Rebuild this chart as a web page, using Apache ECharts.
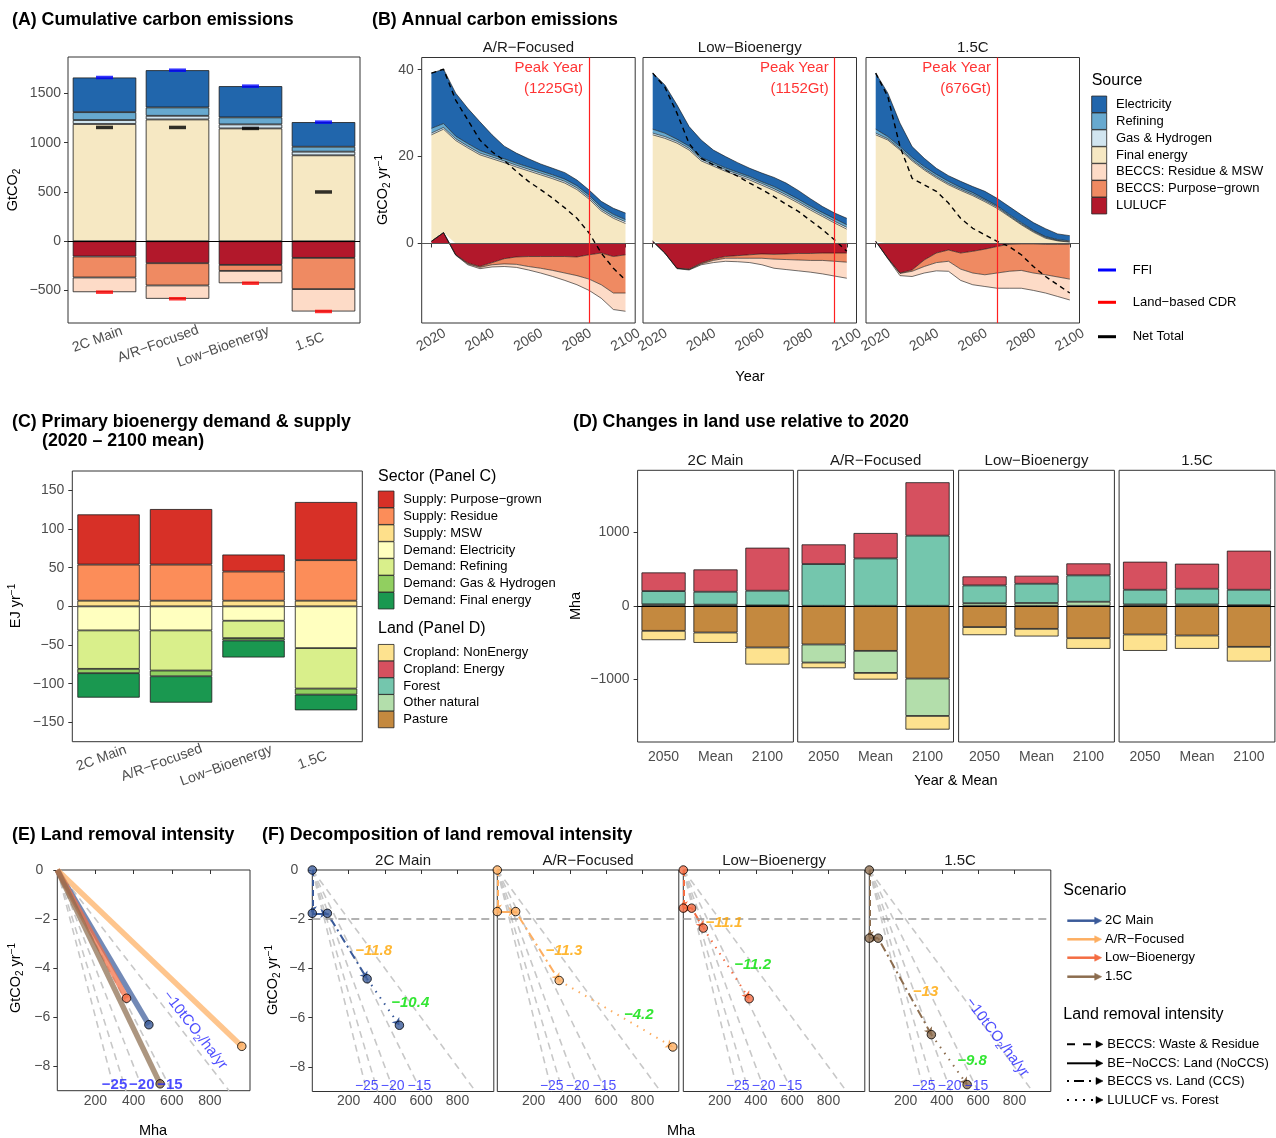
<!DOCTYPE html>
<html><head><meta charset="utf-8">
<script src="https://cdn.jsdelivr.net/npm/echarts@6/dist/echarts.min.js"></script>
<style>html,body{margin:0;padding:0;background:#fff}#c{width:1276px;height:1138px}</style>
</head><body><div id="c"></div>
<script>
// ================= DATA =================
const scenarios = ['2C Main', 'A/R−Focused', 'Low−Bioenergy', '1.5C'];

// Panel A: cumulative carbon emissions (GtCO2)
const aElectricity  = [352, 378, 317, 250];
const aRefining     = [80, 85, 71, 50];
const aGasHydrogen  = [40, 37, 41, 37];
const aFinalEnergy  = [1190, 1236, 1145, 872];
const aLulucf       = [-155, -223, -240, -169];
const aPurposeGrown = [-213, -226, -61, -317];
const aResidueMsw   = [-149, -135, -125, -227];
const aFFI          = [1662, 1736, 1574, 1209];
const aLandCDR      = [-517, -584, -426, -713];
const aNetTotal     = [1155, 1155, 1145, 500];
const aTicks        = [-500, 0, 500, 1000, 1500];

// Panel B: annual carbon emissions (GtCO2/yr)
const bYears  = [2020,2025,2030,2035,2040,2045,2050,2055,2060,2065,2070,2075,2080,2085,2090,2095,2100];
const bFacets = ['A/R−Focused', 'Low−Bioenergy', '1.5C'];
const bPeakYear  = [2085, 2095, 2070];
const bPeakLabel = ['(1225Gt)', '(1152Gt)', '(676Gt)'];
const bXTicks = [2020, 2040, 2060, 2080, 2100];
const bYTicks = [0, 20, 40];

const bArElectricity = [12.7,12.5,9.9,8.1,6.6,4.6,2.9,2.3,1.9,1.6,1.5,1.5,1.3,1.2,1.3,1.4,1.5];
const bArRefining    = [1.1,0.9,0.6,0.6,0.6,0.5,0.5,0.5,0.5,0.5,0.5,0.5,0.5,0.5,0.5,0.5,0.5];
const bArGas         = [0.4,0.4,0.4,0.4,0.4,0.4,0.4,0.4,0.4,0.4,0.4,0.4,0.4,0.4,0.4,0.4,0.4];
const bArFinal       = [24.5,23.8,23.7,22.0,20.4,19.5,18.6,17.6,16.7,15.8,14.9,13.9,12.4,10.2,7.5,5.8,4.6];
const bArLulucf      = [0.5,2.5,-2.6,-4.5,-5.3,-4.4,-3.5,-3.1,-3.0,-3.0,-3.0,-3.0,-3.1,-2.6,-2.2,-3.0,-2.6];
const bArPurpose     = [0,0,0,-0.2,-0.2,-0.5,-1.2,-1.7,-2.3,-2.7,-3.2,-3.8,-4.3,-5.6,-7.3,-8.4,-8.8];
const bArResidue     = [0,0,-0.1,-0.2,-0.3,-0.5,-0.6,-0.7,-0.8,-1.1,-1.4,-1.7,-2.1,-2.6,-3.1,-3.8,-4.2];
const bArNet         = [39.2,40.1,33.0,28.4,23.8,21.1,19.1,16.6,14.3,12.4,10.4,8.2,5.8,2.4,-2.2,-5.7,-8.4];

const bLbElectricity = [12.9,11.1,7.9,4.5,4.0,2.9,2.6,2.2,1.9,2.0,2.1,2.2,2.0,1.7,1.4,1.3,1.5];
const bLbRefining    = [0.9,0.8,0.5,0.5,0.4,0.4,0.4,0.4,0.4,0.4,0.5,0.5,0.5,0.5,0.5,0.6,0.6];
const bLbGas         = [0.4,0.4,0.4,0.4,0.4,0.4,0.4,0.4,0.4,0.4,0.4,0.4,0.4,0.4,0.4,0.4,0.4];
const bLbFinal       = [24.5,24.2,23.1,21.5,19.0,17.8,16.6,15.6,14.6,13.4,12.2,10.8,9.3,7.7,6.2,4.7,3.3];
const bLbLulucf      = [0.5,-2.2,-5.7,-5.9,-4.5,-3.6,-3.0,-2.8,-2.6,-2.4,-2.5,-2.4,-2.3,-2.3,-2.2,-2.2,-2.2];
const bLbPurpose     = [0,0,0,-0.1,-0.2,-0.3,-0.4,-0.6,-0.8,-1.0,-1.1,-1.3,-1.5,-1.6,-1.7,-1.9,-2.1];
const bLbResidue     = [0,0,-0.1,-0.1,-0.2,-0.5,-0.7,-0.8,-1.0,-1.5,-2.1,-2.3,-2.5,-2.7,-3.1,-3.4,-3.7];
const bLbNet         = [39.2,36.0,30.0,23.0,19.6,18.1,16.9,15.5,13.9,12.4,10.8,9.0,7.4,5.3,3.2,0.8,-1.8];

const bC15Electricity = [12.9,10.0,5.4,2.5,1.9,1.4,1.3,1.4,1.4,1.8,1.7,1.8,1.8,1.8,1.8,1.3,1.2];
const bC15Refining    = [0.9,0.5,0.5,0.5,0.5,0.5,0.5,0.4,0.4,0.3,0.3,0.3,0.3,0.2,0.2,0.2,0.2];
const bC15Gas         = [0.4,0.3,0.3,0.3,0.3,0.3,0.3,0.3,0.3,0.3,0.3,0.2,0.2,0.2,0.2,0.1,0.1];
const bC15Final       = [24.5,23.8,21.5,19.0,16.9,15.1,13.5,12.2,11.0,9.6,8.1,6.2,4.3,2.6,1.2,0.6,0.3];
const bC15Lulucf      = [0.5,-3.4,-6.8,-6.1,-3.8,-2.2,-1.5,-2.2,-1.8,-1.3,-0.7,-0.2,-0.1,-0.1,-0.2,-0.2,-0.2];
const bC15Purpose     = [0,0,-0.1,-0.3,-1.5,-2.2,-2.6,-3.7,-5.0,-5.9,-6.1,-6.2,-6.1,-6.7,-7.0,-7.5,-8.0];
const bC15Residue     = [0,-0.1,-0.5,-1.2,-1.5,-1.9,-2.3,-2.6,-2.7,-2.7,-3.5,-3.9,-4.1,-4.0,-4.2,-4.5,-4.8];
const bC15Net         = [39.2,33.8,22.3,15.0,13.5,12.0,9.3,5.8,3.5,2.0,0.5,-0.7,-2.6,-5.3,-7.6,-9.5,-11.4];

// Panel C: primary bioenergy (EJ/yr)
const cPurposeGrown = [64.9, 71.8, 22.0, 75.2];
const cResidue      = [46.7, 46.7, 37.7, 52.4];
const cMSW          = [7.3, 7.3, 7.3, 7.3];
const cElectricity  = [-31.1, -31.1, -18.6, -54.0];
const cRefining     = [-49.7, -51.9, -22.5, -52.3];
const cGasHydrogen  = [-5.6, -7.4, -3.0, -7.8];
const cFinalEnergy  = [-31.6, -34.1, -22.0, -20.3];
const cTicks        = [-150, -100, -50, 0, 50, 100, 150];

// Panel D: land-use change (Mha); 3 periods per scenario, scenario-major
const dPeriods       = ['2050', 'Mean', '2100'];
const dPasture       = [-341,-364,-568, -527,-614,-991, -290,-314,-441, -391,-405,-559];
const dOtherNatural  = [20,15,5, -246,-300,-509, 35,38,55, 18,18,8];
const dForest        = [180,176,200, 568,645,955, 242,262,359, 200,214,210];
const dCropEnergy    = [254,304,586, 268,346,727, 123,109,163, 382,341,532];
const dCropNonEnergy = [-127,-141,-232, -77,-91,-186, -110,-104,-145, -223,-181,-200];
const dTicks         = [-1000, 0, 1000];

// Panels E/F: land removal intensity
const fResidueY        = [-1.76, -1.69, -1.55, -2.77];
const fNoCcsX          = [83, 101, 46, 49];
const fCcsX            = [302, 341, 110, 342];
const fCcsY            = [-4.42, -4.49, -2.36, -6.69];
const fForestX         = [480, 967, 363, 539];
const fForestY         = [-6.31, -7.19, -5.23, -8.72];
const fCcsIntensity    = ['−11.8', '−11.3', '−11.1', '−13'];
const fForestIntensity = ['−10.4', '−4.2', '−11.2', '−9.8'];
const refSlopes        = [-30, -25, -20, -15, -10];
const refLabels        = ['−25', '−20', '−15'];
const efXTicks         = [200, 400, 600, 800];
const efYTicks         = [0, -2, -4, -6, -8];

// ================= STYLE / LAYOUT =================
const FONT = "'Liberation Sans', Arial, Helvetica, sans-serif";
const TICK_COL = '#4d4d4d';
const srcColors = ['#b2182b','#ef8a62','#fddbc7','#f6e8c3','#d1e5f0','#67a9cf','#2166ac'];
const cColors = ['#fee08b','#fc8d59','#d73027','#ffffbf','#d9ef8b','#91cf60','#1a9850'];
const dColors = ['#c4893f','#b3deab','#74c6ad','#d6505f','#fde28f'];
const scenColors = ['#3b5b9a','#fdae61','#f46d43','#8c6d4f'];
const refLabelX = [300, 443, 590];

function fmt(v){ return v < 0 ? '−' + Math.abs(v) : String(v); }

const chart = echarts.init(document.getElementById('c'), null, {width:1276, height:1138});
const grids = [], xAxes = [], yAxes = [], series = [], graphics = [];

function addGrid(r){
  grids.push(Object.assign({show:true, borderColor:'#333', borderWidth:1, backgroundColor:'rgba(0,0,0,0)', containLabel:false}, r));
  return grids.length - 1;
}
function valAxis(gi, min, max, ticks, show, lab){
  return {type:'value', gridIndex:gi, min:min, max:max,
    splitLine:{show:false}, axisLine:{show:false},
    axisTick:{show:show, length:4, lineStyle:{color:'#333'}, customValues:ticks},
    axisLabel:Object.assign({show:show, customValues:ticks, color:TICK_COL, fontSize:14, fontFamily:FONT, margin:7, formatter:fmt}, lab || {})};
}
function catAxis(gi, data, lab){
  return {type:'category', gridIndex:gi, data:data,
    splitLine:{show:false}, axisLine:{show:false},
    axisTick:{show:true, alignWithLabel:true, length:4, lineStyle:{color:'#333'}},
    axisLabel:Object.assign({color:TICK_COL, fontSize:14, fontFamily:FONT, margin:7, interval:0}, lab || {})};
}
function tok(pad){ return {padding:[0,pad,0,0], fontSize:14, fontFamily:FONT, color:TICK_COL}; }
const scenLab = {rotate:20, align:'center', verticalAlign:'middle', margin:14,
  formatter:function(v, i){ return '{p' + i + '|' + v + '}'; },
  rich:{p0:tok(15), p1:tok(41), p2:tok(58), p3:tok(29)}};

function gText(x, y, text, style, rotation){
  graphics.push({type:'text', x:x, y:y, rotation:rotation || 0, silent:true,
    style:Object.assign({text:text, fill:'#000', fontSize:13, fontFamily:FONT, align:'left', verticalAlign:'middle'}, style || {})});
}
function richTitle(fs){
  return {a:{fontSize:fs, lineHeight:fs+4, fontFamily:FONT, fill:'#000'},
          s:{fontSize:10, lineHeight:10, verticalAlign:'bottom', fontFamily:FONT, fill:'#000'},
          p:{fontSize:10, lineHeight:10, verticalAlign:'top', fontFamily:FONT, fill:'#000'}};
}
function zeroLine(color, width){
  return {silent:true, symbol:'none', label:{show:false}, lineStyle:{color:color, width:width, type:'solid'}, data:[{yAxis:0}]};
}

// ================= PANEL A =================
(function(){
  const gi = addGrid({left:68, top:57, width:292, height:266});
  xAxes.push(catAxis(gi, scenarios, scenLab));
  yAxes.push(valAxis(gi, -830, 1870, aTicks, true, {margin:7}));
  const layers = [aLulucf, aPurposeGrown, aResidueMsw, aFinalEnergy, aGasHydrogen, aRefining, aElectricity];
  layers.forEach(function(arr, k){
    series.push({type:'bar', xAxisIndex:gi, yAxisIndex:gi, stack:'A', barWidth:'87%', data:arr, silent:true,
      itemStyle:{color:srcColors[k], borderColor:'#1a1a1a', borderWidth:0.8}});
  });
  [[aFFI,'#0000ff'],[aLandCDR,'#ff0000'],[aNetTotal,'#000000']].forEach(function(m, k){
    const s = {type:'scatter', xAxisIndex:gi, yAxisIndex:gi, data:m[0], symbol:'rect', symbolSize:[17,3.5], silent:true, z:5,
      itemStyle:{color:m[1]}};
    if (k === 2) s.markLine = zeroLine('#000', 1);
    series.push(s);
  });
})();

// ================= PANEL B =================
(function(){
  const lefts = [421.7, 643, 866];
  const facetLayers = [
    [bArLulucf, bArPurpose, bArResidue, bArFinal, bArGas, bArRefining, bArElectricity],
    [bLbLulucf, bLbPurpose, bLbResidue, bLbFinal, bLbGas, bLbRefining, bLbElectricity],
    [bC15Lulucf, bC15Purpose, bC15Residue, bC15Final, bC15Gas, bC15Refining, bC15Electricity]];
  const facetNet = [bArNet, bLbNet, bC15Net];
  lefts.forEach(function(left, f){
    const gi = addGrid({left:left, top:57.5, width:213.5, height:265.5});
    xAxes.push(valAxis(gi, 2016, 2104, bXTicks, true, {rotate:30, align:'center', verticalAlign:'middle', margin:17, formatter:function(v){return String(v);}}));
    yAxes.push(valAxis(gi, -18.3, 42.8, bYTicks, f === 0, {margin:8}));
    facetLayers[f].forEach(function(arr, k){
      series.push({type:'line', xAxisIndex:gi, yAxisIndex:gi, stack:'B' + f, stackStrategy:'samesign',
        encode:{x:1, y:0}, data:bYears.map(function(yr, i){ return [arr[i], yr]; }),
        symbol:'none', showSymbol:false, silent:true, z:2,
        lineStyle:{color:'#111', width:0.6}, itemStyle:{color:srcColors[k]},
        areaStyle:{color:srcColors[k], opacity:1}});
    });
    series.push({type:'line', xAxisIndex:gi, yAxisIndex:gi, data:bYears.map(function(yr, i){ return [yr, facetNet[f][i]]; }),
      symbol:'none', showSymbol:false, silent:true, z:4, lineStyle:{color:'#000', width:1.4, type:[5,4]},
      markLine:{silent:true, symbol:'none', label:{show:false},
        data:[{yAxis:0, lineStyle:{color:'#555', width:1.2, type:'solid'}},
              {xAxis:bPeakYear[f], lineStyle:{color:'#ff2020', width:1.2, type:'solid'}}]}});
    series.push({type:'scatter', xAxisIndex:gi, yAxisIndex:gi, data:[[bPeakYear[f], 38.0]], symbolSize:0, silent:true, z:6,
      itemStyle:{color:'transparent'},
      label:{show:true, position:'left', distance:6, align:'right', verticalAlign:'middle', lineHeight:21,
        color:'#ff0000', fontSize:15, fontFamily:FONT, formatter:'Peak Year\n' + bPeakLabel[f]}});
    gText(left + 213.5/2, 48, bFacets[f], {fontSize:15, fill:'#1a1a1a', align:'center'});
  });
})();

// ================= PANEL C =================
(function(){
  const gi = addGrid({left:72.3, top:471, width:290, height:270.7});
  xAxes.push(catAxis(gi, scenarios, scenLab));
  yAxes.push(valAxis(gi, -175, 175, cTicks, true, {margin:8}));
  const layers = [cMSW, cResidue, cPurposeGrown, cElectricity, cRefining, cGasHydrogen, cFinalEnergy];
  layers.forEach(function(arr, k){
    const s = {type:'bar', xAxisIndex:gi, yAxisIndex:gi, stack:'C', barWidth:'86%', data:arr, silent:true,
      itemStyle:{color:cColors[k], borderColor:'#1a1a1a', borderWidth:0.8}};
    if (k === layers.length - 1) s.markLine = zeroLine('#555', 1.2);
    series.push(s);
  });
})();

// ================= PANEL D =================
(function(){
  const lefts = [637.6, 797.7, 958.6, 1119.1];
  const layers = [dPasture, dOtherNatural, dForest, dCropEnergy, dCropNonEnergy];
  lefts.forEach(function(left, f){
    const gi = addGrid({left:left, top:470.3, width:155.8, height:271.7});
    xAxes.push(catAxis(gi, dPeriods, {margin:8}));
    yAxes.push(valAxis(gi, -1855, 1845, dTicks, f === 0, {margin:8}));
    layers.forEach(function(arr, k){
      const s = {type:'bar', xAxisIndex:gi, yAxisIndex:gi, stack:'D' + f, barWidth:'85%', data:arr.slice(f*3, f*3+3), silent:true,
        itemStyle:{color:dColors[k], borderColor:'#1a1a1a', borderWidth:0.8}};
      if (k === layers.length - 1) s.markLine = zeroLine('#000', 1.2);
      series.push(s);
    });
    gText(left + 155.8/2, 461, scenarios[f], {fontSize:15, fill:'#1a1a1a', align:'center'});
  });
})();

// ================= PANELS E & F helpers =================
function efYAxis(gi, show){
  return valAxis(gi, -9, 0, efYTicks, show, {margin:7,
    formatter:function(v){ return v === 0 ? '{z|0}' : fmt(v); },
    rich:{z:{padding:[0,7,0,0], fontSize:14, fontFamily:FONT, color:TICK_COL}}});
}
function refLines(gi){
  refSlopes.forEach(function(s){
    series.push({type:'line', xAxisIndex:gi, yAxisIndex:gi, data:[[0,0],[9000/Math.abs(s), -9]],
      symbol:'none', showSymbol:false, silent:true, z:1, lineStyle:{color:'#c8c8c8', width:1.6, type:[7,5]}});
  });
}
function refText(gi, bold, fs){
  series.push({type:'scatter', xAxisIndex:gi, yAxisIndex:gi, silent:true, z:7, symbolSize:0, itemStyle:{color:'transparent'},
    data:refLabels.map(function(t, i){ return {value:[refLabelX[i], -8.78], name:t}; }),
    label:{show:true, position:'inside', formatter:'{b}', color:'#1f1fff', fontSize:fs, fontWeight:bold ? 'bold' : 'normal', fontFamily:FONT}});
}
function tenLabel(gi, x, y, rot){
  series.push({type:'scatter', xAxisIndex:gi, yAxisIndex:gi, silent:true, z:7, symbolSize:0, itemStyle:{color:'transparent'},
    data:[[x, y]],
    label:{show:true, position:'inside', rotate:rot, formatter:'{a|−10tCO}{s|2}{a|/ha/yr}',
      rich:{a:{fontSize:15, lineHeight:18, color:'#1f1fff', fontFamily:FONT},
            s:{fontSize:10, lineHeight:10, verticalAlign:'bottom', color:'#1f1fff', fontFamily:FONT}}}});
}

// ================= PANEL E =================
(function(){
  const gi = addGrid({left:57.3, top:870, width:192.7, height:220.7});
  xAxes.push(valAxis(gi, 0, 1010, efXTicks, true, {margin:3}));
  yAxes.push(efYAxis(gi, true));
  refLines(gi);
  scenarios.forEach(function(s, i){
    series.push({type:'line', xAxisIndex:gi, yAxisIndex:gi, data:[[0,0],[fForestX[i], fForestY[i]]],
      symbol:'none', showSymbol:false, silent:true, z:3,
      lineStyle:{color:scenColors[i], width:5.5, opacity:0.72, cap:'butt'}});
  });
  series.push({type:'scatter', xAxisIndex:gi, yAxisIndex:gi, silent:true, z:5, symbolSize:8.5,
    data:scenarios.map(function(s, i){ return {value:[fForestX[i], fForestY[i]], itemStyle:{color:scenColors[i]}}; }),
    itemStyle:{borderColor:'#000', borderWidth:1}});
  refText(gi, true, 15);
  tenLabel(gi, 722, -6.53, -52);
})();

// ================= PANEL F =================
(function(){
  const lefts = [312.3, 497.3, 683.3, 869.3];
  lefts.forEach(function(left, i){
    const gi = addGrid({left:left, top:870, width:181.5, height:221.5});
    xAxes.push(valAxis(gi, 0, 1000, efXTicks, true, {margin:3}));
    yAxes.push(efYAxis(gi, i === 0));
    refLines(gi);
    const c = scenColors[i];
    const p0 = [0, 0], p1 = [0, fResidueY[i]], p2 = [fNoCcsX[i], fResidueY[i]], p3 = [fCcsX[i], fCcsY[i]], p4 = [fForestX[i], fForestY[i]];
    series.push({type:'lines', coordinateSystem:'cartesian2d', xAxisIndex:gi, yAxisIndex:gi, silent:true, z:3,
      symbol:['none','arrow'], symbolSize:7,
      lineStyle:{color:c, width:2, opacity:1},
      data:[{coords:[p0,p1], lineStyle:{type:[6,4]}},
            {coords:[p1,p2], lineStyle:{type:'solid'}},
            {coords:[p2,p3], lineStyle:{type:[2,4,9,4]}},
            {coords:[p3,p4], lineStyle:{type:[1.5,6]}}],
      markLine:{silent:true, symbol:'none', label:{show:false}, lineStyle:{color:'#999', width:1.6, type:[8,5]}, data:[{yAxis:-2}]}});
    series.push({type:'scatter', xAxisIndex:gi, yAxisIndex:gi, silent:true, z:5, symbolSize:8.5,
      data:[p0, p1, p2, p3, p4], itemStyle:{color:c, borderColor:'#000', borderWidth:1}});
    series.push({type:'scatter', xAxisIndex:gi, yAxisIndex:gi, silent:true, z:6, symbolSize:0, itemStyle:{color:'transparent'},
      data:[{value:[(p2[0]+p3[0])/2, (p2[1]+p3[1])/2], name:fCcsIntensity[i],
             label:{color:'#ffa500', offset:[2,5]}},
            {value:[(p3[0]+p4[0])/2, (p3[1]+p4[1])/2], name:fForestIntensity[i],
             label:{color:'#00e000', offset:[2,1]}}],
      label:{show:true, position:'right', distance:6, formatter:'{b}', fontSize:15, fontWeight:'bold', fontStyle:'italic', fontFamily:FONT}});
    refText(gi, false, 14);
    if (i === 3) tenLabel(gi, 705, -6.8, -53);
    gText(left + 181.5/2, 861, scenarios[i], {fontSize:15, fill:'#1a1a1a', align:'center'});
  });
})();

// ================= TEXT / LEGENDS =================
const titleStyle = {fontSize:17.8, fontWeight:'bold', fill:'#000'};
gText(12, 20, '(A) Cumulative carbon emissions', titleStyle);
gText(372, 20, '(B) Annual carbon emissions', titleStyle);
gText(12, 422, '(C) Primary bioenergy demand & supply', titleStyle);
gText(42, 441, '(2020 – 2100 mean)', titleStyle);
gText(573, 422, '(D) Changes in land use relative to 2020', titleStyle);
gText(12, 835, '(E) Land removal intensity', titleStyle);
gText(262, 835, '(F) Decomposition of land removal intensity', titleStyle);

const R = richTitle(14.5);
gText(13, 190, '{a|GtCO}{s|2}', {rich:R, align:'center'}, Math.PI/2);
gText(383, 190, '{a|GtCO}{s|2}{a| yr}{p|−1}', {rich:R, align:'center'}, Math.PI/2);
gText(16, 606, '{a|EJ yr}{p|−1}', {rich:R, align:'center'}, Math.PI/2);
gText(576, 606, '{a|Mha}', {rich:R, align:'center'}, Math.PI/2);
gText(16, 978, '{a|GtCO}{s|2}{a| yr}{p|−1}', {rich:R, align:'center'}, Math.PI/2);
gText(273, 980, '{a|GtCO}{s|2}{a| yr}{p|−1}', {rich:R, align:'center'}, Math.PI/2);
gText(750, 377, 'Year', {fontSize:14.5, align:'center'});
gText(956, 781, 'Year & Mean', {fontSize:14.5, align:'center'});
gText(153, 1131, 'Mha', {fontSize:14.5, align:'center'});
gText(681, 1131, 'Mha', {fontSize:14.5, align:'center'});

function swatch(x, y, w, h, color){
  graphics.push({type:'rect', silent:true, shape:{x:x, y:y - h/2, width:w, height:h}, style:{fill:color, stroke:'#222', lineWidth:0.8}});
}
function hline(x1, x2, y, color, width, dash){
  graphics.push({type:'line', silent:true, shape:{x1:x1, y1:y, x2:x2, y2:y}, style:{stroke:color, lineWidth:width, lineDash:dash || null}});
}
function arrowHead(x, y, color){
  graphics.push({type:'polygon', silent:true, shape:{points:[[x-7, y-3.5],[x, y],[x-7, y+3.5]]}, style:{fill:color, stroke:color, lineWidth:0.5}});
}

// Legend B
gText(1091.7, 80.7, 'Source', {fontSize:16});
const srcNames = ['Electricity','Refining','Gas & Hydrogen','Final energy','BECCS: Residue & MSW','BECCS: Purpose−grown','LULUCF'];
const srcLegendColors = ['#2166ac','#67a9cf','#d1e5f0','#f6e8c3','#fddbc7','#ef8a62','#b2182b'];
srcNames.forEach(function(n, k){
  const y = 104.3 + k * 16.9;
  swatch(1091.7, y, 15, 16.5, srcLegendColors[k]);
  gText(1116, y, n, {fontSize:13});
});
[['FFI','#0000ff',270],['Land−based CDR','#ff0000',302.3],['Net Total','#000',336.7]].forEach(function(m){
  hline(1098, 1116, m[2], m[1], 3);
  gText(1132.7, m[2], m[0], {fontSize:13});
});

// Legend C / D
gText(378, 476.7, 'Sector (Panel C)', {fontSize:16});
const cNames = ['Supply: Purpose−grown','Supply: Residue','Supply: MSW','Demand: Electricity','Demand: Refining','Demand: Gas & Hydrogen','Demand: Final energy'];
const cLegendColors = ['#d73027','#fc8d59','#fee08b','#ffffbf','#d9ef8b','#91cf60','#1a9850'];
cNames.forEach(function(n, k){
  const y = 499.3 + k * 16.9;
  swatch(378.3, y, 15.7, 16.5, cLegendColors[k]);
  gText(403.3, y, n, {fontSize:13});
});
gText(378, 628.3, 'Land (Panel D)', {fontSize:16});
const dNames = ['Cropland: NonEnergy','Cropland: Energy','Forest','Other natural','Pasture'];
const dLegendColors = ['#fde28f','#d6505f','#74c6ad','#b3deab','#c4893f'];
dNames.forEach(function(n, k){
  const y = 652.7 + k * 16.7;
  swatch(378.3, y, 15.7, 16.5, dLegendColors[k]);
  gText(403.3, y, n, {fontSize:13});
});

// Legend F
gText(1063.3, 890.7, 'Scenario', {fontSize:16});
scenarios.forEach(function(n, k){
  const y = [920.7, 939.3, 957.7, 976.7][k];
  hline(1067.3, 1096, y, scenColors[k], 2.5);
  arrowHead(1101.7, y, scenColors[k]);
  gText(1105, y, n, {fontSize:13});
});
gText(1063.3, 1015, 'Land removal intensity', {fontSize:16});
[['BECCS: Waste & Residue',[8,8]],['BE−NoCCS: Land (NoCCS)',null],['BECCS vs. Land (CCS)',[2,5,10,5]],['LULUCF vs. Forest',[2,6]]].forEach(function(m, k){
  const y = [1044.3, 1063.3, 1081, 1100][k];
  hline(1067, 1098, y, '#000', 2, m[1]);
  arrowHead(1103, y, '#000');
  gText(1107.3, y, m[0], {fontSize:13});
});

chart.setOption({
  animation:false,
  textStyle:{fontFamily:FONT},
  grid:grids, xAxis:xAxes, yAxis:yAxes, series:series,
  graphic:{elements:graphics}
});
</script></body></html>
